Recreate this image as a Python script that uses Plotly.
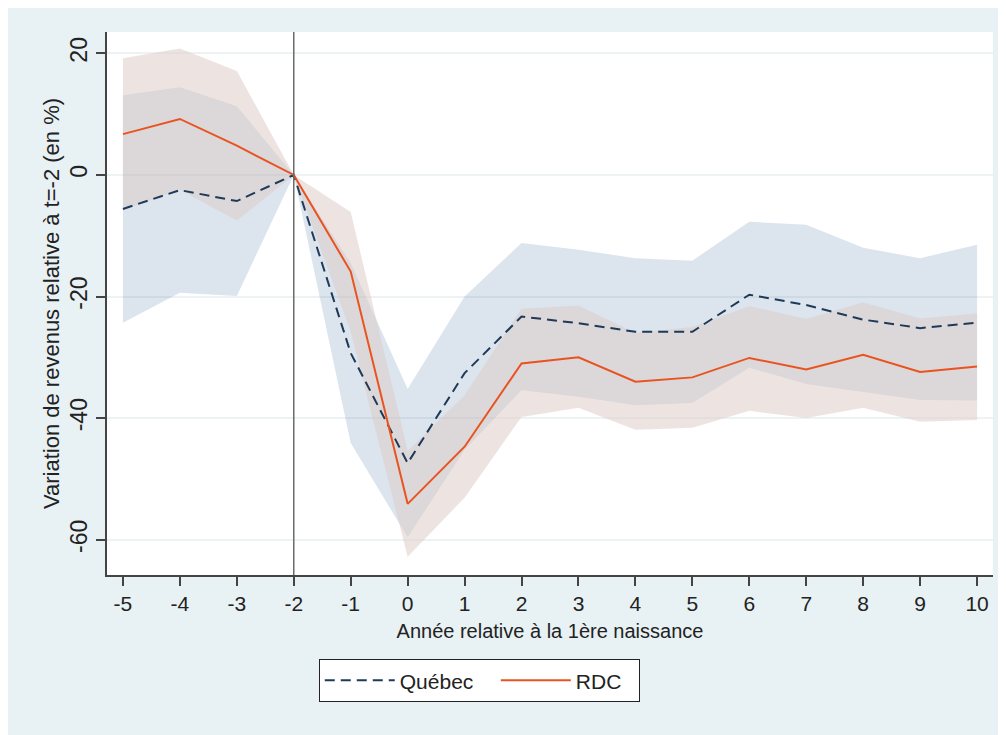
import plotly.graph_objects as go

# years relative to first birth
years = [-5, -4, -3, -2, -1, 0, 1, 2, 3, 4, 5, 6, 7, 8, 9, 10]

# Québec estimate and confidence interval (%)
quebec = [-5.6, -2.5, -4.3, 0, -29.3, -47.4, -32.6, -23.3, -24.4, -25.8, -25.8, -19.7, -21.4, -23.8, -25.2, -24.3]
quebec_hi = [13.1, 14.4, 11.3, 0, -14.5, -35.2, -20.0, -11.2, -12.3, -13.7, -14.1, -7.7, -8.2, -12.0, -13.7, -11.5]
quebec_lo = [-24.3, -19.4, -19.9, 0, -44.1, -59.6, -45.2, -35.4, -36.5, -37.9, -37.5, -31.7, -34.4, -35.7, -37.0, -37.1]

# RDC estimate and confidence interval (%)
rdc = [6.7, 9.2, 4.8, 0, -15.9, -54.1, -44.7, -31.0, -30.0, -34.0, -33.3, -30.1, -32.0, -29.6, -32.4, -31.5]
rdc_hi = [19.2, 20.8, 17.1, 0, -6.1, -45.4, -36.3, -22.0, -21.5, -26.0, -25.0, -21.6, -23.7, -21.0, -23.6, -22.8]
rdc_lo = [-5.8, -2.4, -7.5, 0, -25.7, -62.8, -53.1, -39.8, -38.3, -41.9, -41.6, -38.8, -40.0, -38.3, -40.6, -40.3]

y_ticks = [20, 0, -20, -40, -60]

FONT = "Liberation Sans, Arial, sans-serif"
NAVY = "#1f3a58"
ORANGE = "#e8541f"
NBSP = "\u00a0"

fig = go.Figure()

# confidence bands
fig.add_trace(go.Scatter(x=years, y=quebec_lo, mode="lines", line=dict(width=0),
                         showlegend=False, hoverinfo="skip"))
fig.add_trace(go.Scatter(x=years, y=quebec_hi, mode="lines", line=dict(width=0),
                         fill="tonexty", fillcolor="rgba(80,120,165,0.2)",
                         showlegend=False, hoverinfo="skip"))
fig.add_trace(go.Scatter(x=years, y=rdc_lo, mode="lines", line=dict(width=0),
                         showlegend=False, hoverinfo="skip"))
fig.add_trace(go.Scatter(x=years, y=rdc_hi, mode="lines", line=dict(width=0),
                         fill="tonexty", fillcolor="rgba(219,201,197,0.5)",
                         showlegend=False, hoverinfo="skip"))

# point estimates (trailing non-breaking spaces only widen the legend gaps)
fig.add_trace(go.Scatter(x=years, y=quebec, mode="lines", name="Québec" + NBSP * 3,
                         line=dict(color=NAVY, width=2, dash="10px,6px")))
fig.add_trace(go.Scatter(x=years, y=rdc, mode="lines", name="RDC" + NBSP * 2,
                         line=dict(color=ORANGE, width=2)))

# reference line at t=-2
fig.add_vline(x=-2, line=dict(color="#6b6b6b", width=1.5))

# page body adds an 8px white edge, so the figure is 8px smaller
fig.update_layout(
    width=998, height=727,
    margin=dict(l=99, r=13, t=24, b=160),
    paper_bgcolor="#e8f1f3",
    plot_bgcolor="white",
    font=dict(family=FONT, size=20, color="#222222"),
    showlegend=True,
    legend=dict(
        orientation="h", x=0.239, xanchor="left", y=-0.155, yanchor="top",
        bgcolor="white", bordercolor="#222222", borderwidth=1,
        font=dict(family=FONT, size=21, color="#222222"),
        itemwidth=70, traceorder="normal",
    ),
)

fig.update_xaxes(
    range=[-5.28, 10.28], tickmode="array", tickvals=years,
    ticktext=[str(v) for v in years], tickfont=dict(size=21),
    ticks="outside", ticklen=9, tickwidth=1.5, tickcolor="#444444",
    showline=True, linecolor="#444444", linewidth=1.5,
    showgrid=False, zeroline=False,
    title=dict(text="Année relative à la 1ère naissance", standoff=10,
               font=dict(family=FONT, size=20)),
)
fig.update_yaxes(
    range=[-65.8, 23.5], tickmode="array", tickvals=y_ticks,
    ticktext=[str(v) for v in y_ticks], tickfont=dict(size=23),
    tickangle=-90,
    ticks="outside", ticklen=9, tickwidth=1.5, tickcolor="#444444",
    showline=True, linecolor="#444444", linewidth=1.5,
    showgrid=True, gridcolor="#edf2f4", gridwidth=1.5, zeroline=False,
    title=dict(text="Variation de revenus relative à t=-2 (en %)", standoff=0,
               font=dict(family=FONT, size=22)),
)

fig.write_html("out.html")
